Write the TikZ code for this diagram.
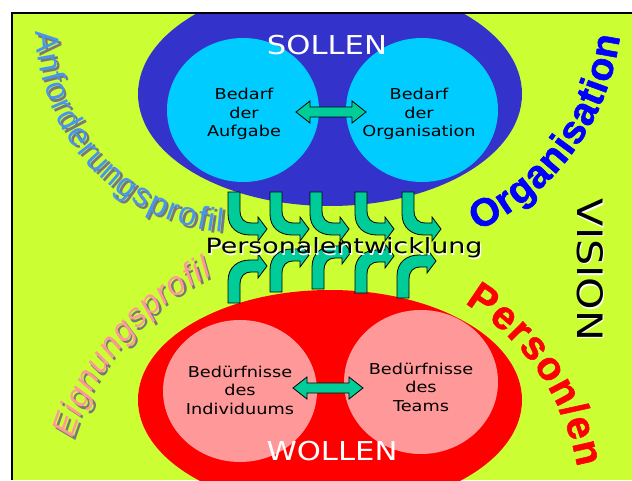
\documentclass[tikz,border=0pt]{standalone}
\usepackage{fontspec}
\setmainfont{DejaVu Sans}
\newfontfamily\dvA[FakeStretch=1.18]{DejaVu Sans}
\newfontfamily\dvB[FakeStretch=1.28]{DejaVu Sans}
\newfontfamily\arialf{Liberation Sans}
\newfontfamily\arialblk[FakeBold=1.5]{Liberation Sans}
\usetikzlibrary{shapes.geometric,decorations.text}
\definecolor{bggreen}{RGB}{204,255,51}
\definecolor{sollblue}{RGB}{51,51,204}
\definecolor{cyanc}{RGB}{0,204,255}
\definecolor{pinkc}{RGB}{255,153,153}
\definecolor{arrgreen}{RGB}{0,204,153}
\definecolor{anfblue}{RGB}{70,150,240}
\definecolor{shadowgray}{RGB}{120,120,120}
\newcommand\arrdown[2]{\draw[fatarrow, shift={(#1,#2)}] (0,0) -- (0,-22) .. controls (0,-36) and (10,-43) .. (22,-43) -- (30,-43) -- (30,-49) -- (39,-37) -- (30,-25) -- (30,-31) -- (24,-31) .. controls (16,-31) and (12,-27) .. (12,-18) -- (12,0) -- cycle;}
\newcommand\arrup[2]{\draw[fatarrow, shift={(#1,#2)}, yscale=-1] (0,0) -- (0,-22) .. controls (0,-36) and (10,-43) .. (22,-43) -- (30,-43) -- (30,-49) -- (39,-37) -- (30,-25) -- (30,-31) -- (24,-31) .. controls (16,-31) and (12,-27) .. (12,-18) -- (12,0) -- cycle;}
\newcommand\dblarr[3]{\draw[fatarrow] (#1,#3) -- ++(14,11) -- ++(0,-6) -- ({#2-14},{#3+5}) -- ++(0,6) -- (#2,#3) -- ++(-14,-11) -- ++(0,6) -- ({#1+14},{#3-5}) -- ++(0,-6) -- cycle;}
\begin{document}
\begin{tikzpicture}[x=1pt,y=1pt,
  blob/.style={ellipse, inner sep=0pt, draw=none},
  lbl/.style={inner sep=0pt, align=center, font=\dvA\fontsize{15}{18.5}\selectfont, text=black},
  fatarrow/.style={fill=arrgreen, draw=black, line width=0.8pt, line join=miter},
  bigword/.style={inner sep=0pt, anchor=base}
]
\useasboundingbox (0,0) rectangle (632,480);
\fill[white] (0,0) rectangle (632,480);
\fill[bggreen] (12,0) rectangle (632,467);
\begin{scope}
\clip (13,0) rectangle (632,466);
\node[blob, fill=sollblue, minimum width=384pt, minimum height=224pt] (soll) at (330,386) {};
\node[blob, fill=red, minimum width=384pt, minimum height=220pt] (woll) at (330,80) {};
\end{scope}
\draw[line width=2pt] (12,0) -- (12,467) -- (632,467);

% inner circles
\node[blob, fill=cyanc, minimum width=152pt, minimum height=144pt] (aufg) at (243,370) {};
\node[blob, fill=cyanc, minimum width=152pt, minimum height=144pt] (orgc) at (422,370) {};
\node[blob, fill=pinkc, minimum width=154pt, minimum height=142pt] (indiv) at (240,89) {};
\node[blob, fill=pinkc, minimum width=154pt, minimum height=144pt] (team) at (421,98) {};

\node[lbl] (taufg) at (244,366) {Bedarf\\der\\Aufgabe};
\node[lbl] (torg) at (419,366) {Bedarf\\der\\Organisation};
\node[lbl] (tindiv) at (240,90) {Bedürfnisse\\des\\Individuums};
\node[lbl] (tteam) at (421,93) {Bedürfnisse\\des\\Teams};

\dblarr{296}{366}{368}
\dblarr{293}{363}{92}

\node[bigword, text=white, font=\dvA\fontsize{26}{26}\selectfont] (sollen) at (327,425) {SOLLEN};
\node[bigword, text=white, font=\dvA\fontsize{26}{26}\selectfont] (wollen) at (332,20) {WOLLEN};

% curved arrows
\arrdown{228}{288}
\arrdown{270}{288}
\arrdown{310}{288}
\arrdown{355}{288}
\arrdown{402}{288}
\arrup{228}{177}
\arrup{270}{188}
\arrup{312}{191}
\arrup{355}{187}
\arrup{397}{182}

\node[bigword, text=white, font=\dvB\fontsize{21}{21}\selectfont] (pes) at (345.2,224.8) {Personalentwicklung};
\node[bigword, text=black, font=\dvB\fontsize{21}{21}\selectfont] (pe) at (344,226) {Personalentwicklung};

\node[inner sep=0pt, rotate=-90, text=white, font=\dvA\fontsize{35}{35}\selectfont] (visions) at (591.5,208.5) {VISION};
\node[inner sep=0pt, rotate=-90, text=black, font=\dvA\fontsize{35}{35}\selectfont] (vision) at (590,210) {VISION};

% arched words
\path[decorate, decoration={text along path, text align=fit to path, text color=shadowgray,
  text={|\arialf\fontsize{33}{33}\selectfont|Anforderungsprofil}}]
  (243.5,449.5) ++(181:205) arc (181:265:205);
\path[decorate, decoration={text along path, text align=fit to path, text color=anfblue,
  text={|\arialf\fontsize{33}{33}\selectfont|Anforderungsprofil}}]
  (241,452) ++(181:205) arc (181:265:205);

\path[decorate, decoration={text along path, text align=fit to path, text color=shadowgray,
  text={|\arialf\itshape\fontsize{33}{33}\selectfont|Eignungsprofil}}]
  (333.5,-40.5) ++(163:270) arc (163:116:270);
\path[decorate, decoration={text along path, text align=fit to path, text color=pinkc,
  text={|\arialf\itshape\fontsize{33}{33}\selectfont|Eignungsprofil}}]
  (331,-38) ++(163:270) arc (163:116:270);

\path[decorate, decoration={text along path, text align=fit to path, text color=blue,
  text={|\arialblk\bfseries\fontsize{39}{39}\selectfont|Organisation}}]
  (372,476) ++(-65:250) arc (-65:-7.5:250);

\path[decorate, decoration={text along path, text align=fit to path, text color=red,
  text={|\arialblk\bfseries\fontsize{40}{40}\selectfont|Person/en}}]
  (341,-29) ++(59:240) arc (59:10:240);
\end{tikzpicture}
\end{document}
